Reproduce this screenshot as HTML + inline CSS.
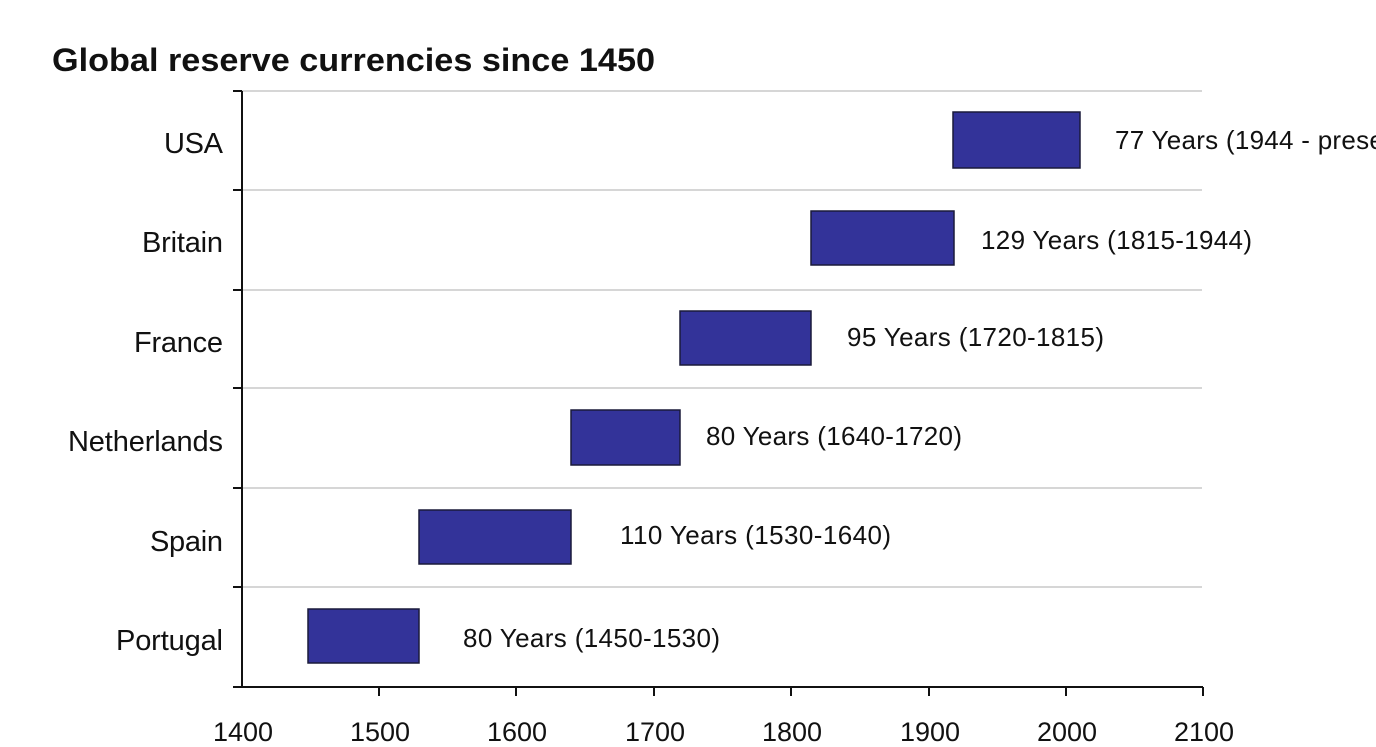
<!DOCTYPE html>
<html><head><meta charset="utf-8"><style>
html,body{margin:0;padding:0;background:#fff;width:1376px;height:747px;overflow:hidden}
</style></head><body>
<svg width="1376" height="747" xmlns="http://www.w3.org/2000/svg">
<text x="52" y="71" font-family="Liberation Sans, sans-serif" font-weight="bold" font-size="32" fill="#111" textLength="603" lengthAdjust="spacingAndGlyphs">Global reserve currencies since 1450</text>
<g stroke="#c8c8c8" stroke-width="1.5">
<line x1="242" y1="91" x2="1202" y2="91"/>
<line x1="242" y1="190" x2="1202" y2="190"/>
<line x1="242" y1="290" x2="1202" y2="290"/>
<line x1="242" y1="388" x2="1202" y2="388"/>
<line x1="242" y1="488" x2="1202" y2="488"/>
<line x1="242" y1="587" x2="1202" y2="587"/>
</g>
<g stroke="#111" stroke-width="2">
<line x1="242" y1="91" x2="242" y2="688"/>
<line x1="233" y1="687" x2="1203" y2="687"/>
<line x1="233" y1="91" x2="242" y2="91"/>
<line x1="233" y1="190" x2="242" y2="190"/>
<line x1="233" y1="290" x2="242" y2="290"/>
<line x1="233" y1="388" x2="242" y2="388"/>
<line x1="233" y1="488" x2="242" y2="488"/>
<line x1="233" y1="587" x2="242" y2="587"/>
<line x1="379" y1="687" x2="379" y2="696"/>
<line x1="516" y1="687" x2="516" y2="696"/>
<line x1="654" y1="687" x2="654" y2="696"/>
<line x1="791" y1="687" x2="791" y2="696"/>
<line x1="929" y1="687" x2="929" y2="696"/>
<line x1="1066" y1="687" x2="1066" y2="696"/>
<line x1="1203" y1="687" x2="1203" y2="696"/>
</g>
<g fill="#333399" stroke="#1a1a3a" stroke-width="1.5">
<rect x="953" y="112" width="127" height="56"/>
<rect x="811" y="211" width="143" height="54"/>
<rect x="680" y="311" width="131" height="54"/>
<rect x="571" y="410" width="109" height="55"/>
<rect x="419" y="510" width="152" height="54"/>
<rect x="308" y="609" width="111" height="54"/>
</g>
<g font-family="Liberation Sans, sans-serif" font-size="29" fill="#111" lengthAdjust="spacingAndGlyphs">
<text x="164" y="153" textLength="59">USA</text>
<text x="142" y="252" textLength="81">Britain</text>
<text x="134" y="352" textLength="89">France</text>
<text x="68" y="451" textLength="155">Netherlands</text>
<text x="150" y="551" textLength="73">Spain</text>
<text x="116" y="650" textLength="107">Portugal</text>
</g>
<g font-family="Liberation Sans, sans-serif" font-size="27" fill="#111" text-anchor="middle" lengthAdjust="spacingAndGlyphs">
<text x="243" y="741" textLength="60">1400</text>
<text x="380" y="741" textLength="60">1500</text>
<text x="517" y="741" textLength="60">1600</text>
<text x="655" y="741" textLength="60">1700</text>
<text x="792" y="741" textLength="60">1800</text>
<text x="930" y="741" textLength="60">1900</text>
<text x="1067" y="741" textLength="60">2000</text>
<text x="1204" y="741" textLength="60">2100</text>
</g>
<g font-family="Liberation Sans, sans-serif" font-size="26" fill="#111" lengthAdjust="spacingAndGlyphs">
<text x="1115" y="149" textLength="300">77 Years (1944 - present)</text>
<text x="981" y="249" textLength="271">129 Years (1815-1944)</text>
<text x="847" y="346" textLength="257">95 Years (1720-1815)</text>
<text x="706" y="445" textLength="256">80 Years (1640-1720)</text>
<text x="620" y="544" textLength="271">110 Years (1530-1640)</text>
<text x="463" y="647" textLength="257">80 Years (1450-1530)</text>
</g>
</svg>
</body></html>
